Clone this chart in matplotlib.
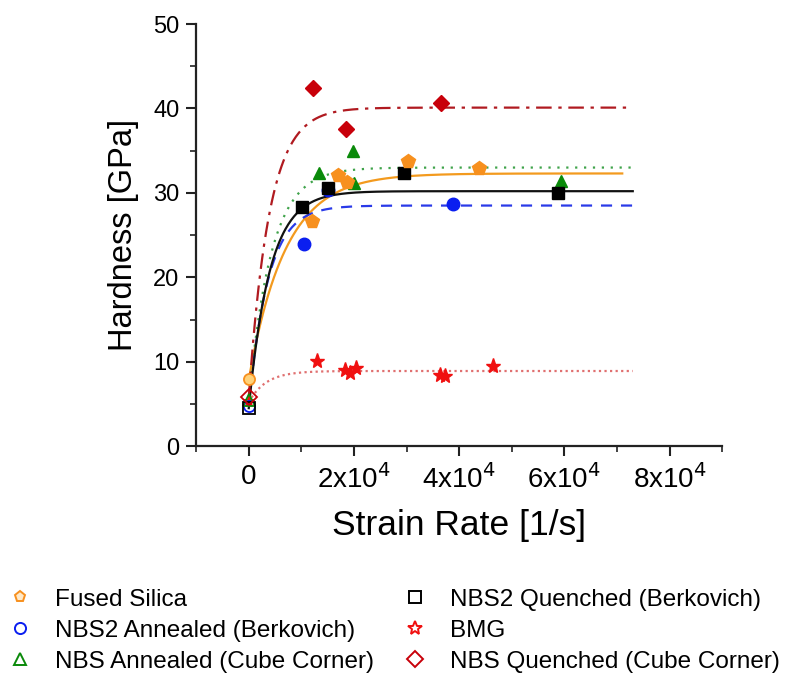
import numpy as np
import matplotlib.pyplot as plt
from matplotlib.lines import Line2D

plt.rcParams["font.family"] = ["Liberation Sans", "DejaVu Sans"]

# Measured hardness vs strain rate (first point of each set is quasi-static)
fs_rate = [0, 12000, 16900, 18700, 30300, 43700]
fs_hard = [7.9, 26.7, 32.1, 31.3, 33.8, 33.0]

nbs2a_rate = [0, 10500, 15000, 38900]
nbs2a_hard = [4.8, 24.0, 30.4, 28.7]

nbsa_rate = [0, 13400, 19900, 20100, 59300]
nbsa_hard = [5.5, 32.3, 35.0, 31.2, 31.4]

nbs2q_rate = [0, 10200, 15000, 29600, 58800]
nbs2q_hard = [4.5, 28.3, 30.6, 32.3, 30.0]

bmg_rate = [0, 12900, 18200, 19200, 20300, 36300, 37400, 46500]
bmg_hard = [5.2, 10.1, 9.0, 8.7, 9.3, 8.4, 8.3, 9.5]

nbsq_rate = [0, 12300, 18500, 36600]
nbsq_hard = [5.8, 42.4, 37.6, 40.6]

# Exponential saturation fits: H = H0 + (Hmax - H0) * (1 - exp(-rate / tau))
fit_h0 = [7.9, 4.8, 5.5, 4.5, 5.2, 5.8]
fit_hmax = [32.3, 28.5, 33.0, 30.2, 8.9, 40.1]
fit_tau = [7000, 3700, 4300, 4000, 3300, 3900]
fit_end = [71000, 73000, 73000, 73000, 73000, 73000]

labels = ["Fused Silica", "NBS2 Annealed (Berkovich)", "NBS Annealed (Cube Corner)",
          "NBS2 Quenched (Berkovich)", "BMG", "NBS Quenched (Cube Corner)"]
marker_colors = ["#F7901E", "#0A1EF0", "#0A8A0A", "#000000", "#F01010", "#C8000A"]
line_colors = ["#F39A1E", "#2A3AE8", "#3FA34A", "#111111", "#E07070", "#B01A20"]
line_styles = ["-", (0, (5, 4)), (0, (1, 3)), "-", (0, (1, 1.5)), (0, (7, 3, 1.5, 3))]
markers = ["p", "o", "^", "s", "*", "D"]
msizes = [10, 9, 9, 8, 11, 8]

rates = [fs_rate, nbs2a_rate, nbsa_rate, nbs2q_rate, bmg_rate, nbsq_rate]
hards = [fs_hard, nbs2a_hard, nbsa_hard, nbs2q_hard, bmg_hard, nbsq_hard]

fig = plt.figure(figsize=(7.91, 6.77), dpi=100)
ax = fig.add_axes([0.248, 0.341, 0.665, 0.6235])

for i in range(6):
    x = np.linspace(0, fit_end[i], 400)
    y = fit_h0[i] + (fit_hmax[i] - fit_h0[i]) * (1 - np.exp(-x / fit_tau[i]))
    ax.plot(x, y, color=line_colors[i], linestyle=line_styles[i], lw=1.6, zorder=2)

for i in [4, 1, 2, 3, 0, 5]:
    ax.plot(rates[i][1:], hards[i][1:], linestyle="none", marker=markers[i],
            ms=msizes[i], color=marker_colors[i], mec=marker_colors[i], zorder=3)
    # quasi-static point drawn hollow
    face = "#FFD27A" if i == 0 else "none"
    ax.plot(rates[i][:1], hards[i][:1], linestyle="none", marker="o" if i == 0 else markers[i],
            ms=8, mfc=face, mec=marker_colors[i], mew=1.3, zorder=3)

ax.set_xlim(-10000, 90000)
ax.set_ylim(0, 50)
ax.set_xticks([0, 20000, 40000, 60000, 80000])
ax.set_xticklabels(["0", r"2x10$^4$", r"4x10$^4$", r"6x10$^4$", r"8x10$^4$"])
ax.set_xticks(np.arange(-10000, 90001, 10000), minor=True)
ax.set_yticks([0, 10, 20, 30, 40, 50])
ax.set_yticks(np.arange(0, 51, 5), minor=True)
ax.spines["top"].set_visible(False)
ax.spines["right"].set_visible(False)
for s in ["left", "bottom"]:
    ax.spines[s].set_linewidth(1.6)
    ax.spines[s].set_color("#222222")
ax.tick_params(which="major", length=7, width=1.5, pad=5, color="#222222")
ax.tick_params(which="minor", length=4, width=1.2, color="#222222")
ax.tick_params(axis="y", labelsize=17)
ax.tick_params(axis="x", labelsize=20, pad=6)
ax.set_xlabel("Strain Rate [1/s]", fontsize=25.5, labelpad=11)
ax.set_ylabel("Hardness [GPa]", fontsize=23.5, labelpad=10)

handles = []
for i in range(6):
    face = "#FFE9C8" if i == 0 else "none"
    handles.append(Line2D([], [], linestyle="none", marker=markers[i], ms=8 if i != 4 else 10,
                          mfc=face, mec=marker_colors[i], mew=1.4, label=labels[i]))

leg_kw = dict(frameon=False, fontsize=17.5, handlelength=1.0, handletextpad=0.95,
              labelspacing=0.37, borderaxespad=0, borderpad=0)
fig.legend(handles=handles[:3], loc="upper left", bbox_to_anchor=(0.010, 0.1307), **leg_kw)
fig.legend(handles=handles[3:], loc="upper left", bbox_to_anchor=(0.509, 0.1307), **leg_kw)

fig.savefig("out.png", dpi=100)
